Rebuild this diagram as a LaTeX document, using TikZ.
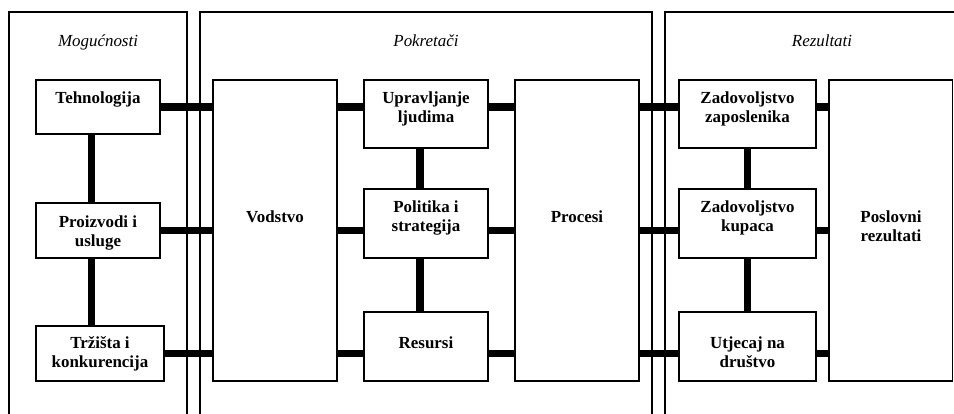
\documentclass[tikz,border=0pt]{standalone}
\usepackage{fontspec}
\setmainfont{Liberation Serif}
\usetikzlibrary{fit}
\newcommand\topst{\rule{0pt}{12pt}}
\tikzset{
  box/.style={draw, line width=1pt, fill=white, inner sep=0pt},
  conn/.style={line width=5.6pt},
  panel/.style={line width=0.8pt},
  lbl/.style={anchor=north, inner sep=0pt, align=center,
    font=\fontsize{12.7}{14.25}\selectfont\bfseries},
  ttl/.style={anchor=base, inner sep=0pt,
    font=\fontsize{12.7}{14.25}\selectfont\itshape}
}
\begin{document}
\begin{tikzpicture}[x=0.75pt,y=-0.75pt]
\useasboundingbox (0,0) rectangle (954,414);
% helper coordinates for connector rows and columns
\coordinate (r1) at (0,107);
\coordinate (r2) at (0,230.5);
\coordinate (r3) at (0,353.5);
\coordinate (c1) at (91.5,0);
\coordinate (c2) at (420,0);
\coordinate (c3) at (747.5,0);
% boxes
\node[box, fit={(36,80)(160,134)}] (teh) {};
\node[box, fit={(36,203)(160,258)}] (pro) {};
\node[box, fit={(36,326)(164,381)}] (trz) {};
\node[box, fit={(213,80)(337,381)}] (vod) {};
\node[box, fit={(364,80)(488,148)}] (upr) {};
\node[box, fit={(364,189)(488,258)}] (pol) {};
\node[box, fit={(364,312)(488,381)}] (res) {};
\node[box, fit={(515,80)(639,381)}] (proc) {};
\node[box, fit={(679,80)(816,148)}] (zap) {};
\node[box, fit={(679,189)(816,258)}] (kup) {};
\node[box, fit={(679,312)(816,381)}] (utj) {};
\node[box, fit={(829,80)(952.5,381)}] (pos) {};
% connectors
\draw[conn] (teh.east |- r1) -- (vod.west |- r1);
\draw[conn] (pro.east |- r2) -- (vod.west |- r2);
\draw[conn] (trz.east |- r3) -- (vod.west |- r3);
\draw[conn] (teh.south -| c1) -- (pro.north -| c1);
\draw[conn] (pro.south -| c1) -- (trz.north -| c1);
\draw[conn] (vod.east |- r1) -- (upr.west |- r1);
\draw[conn] (vod.east |- r2) -- (pol.west |- r2);
\draw[conn] (vod.east |- r3) -- (res.west |- r3);
\draw[conn] (upr.south -| c2) -- (pol.north -| c2);
\draw[conn] (pol.south -| c2) -- (res.north -| c2);
\draw[conn] (upr.east |- r1) -- (proc.west |- r1);
\draw[conn] (pol.east |- r2) -- (proc.west |- r2);
\draw[conn] (res.east |- r3) -- (proc.west |- r3);
\draw[conn] (proc.east |- r1) -- (zap.west |- r1);
\draw[conn] (proc.east |- r2) -- (kup.west |- r2);
\draw[conn] (proc.east |- r3) -- (utj.west |- r3);
\draw[conn] (zap.south -| c3) -- (kup.north -| c3);
\draw[conn] (kup.south -| c3) -- (utj.north -| c3);
\draw[conn] (zap.east |- r1) -- (pos.west |- r1);
\draw[conn] (kup.east |- r2) -- (pos.west |- r2);
\draw[conn] (utj.east |- r3) -- (pos.west |- r3);
% panels
\draw[panel] (9,414) |- (187,12) -- (187,414);
\draw[panel] (200,414) |- (652,12) -- (652,414);
\draw[panel] (665,414) |- (955,12);
% titles
\node[ttl] (t1) at (98,46.5) {Mogućnosti};
\node[ttl] (t2) at (426,46.5) {Pokretači};
\node[ttl] (t3) at (822,46.5) {Rezultati};
% labels (north = first baseline - 16px)
\node[lbl] (l1) at (98,87.5) {\topst Tehnologija};
\node[lbl] (l2) at (98,211) {\topst Proizvodi i\\usluge};
\node[lbl] (l3) at (100,332.5) {\topst Tržišta i\\konkurencija};
\node[lbl] (l4) at (275,206.5) {\topst Vodstvo};
\node[lbl] (l5) at (426,87.5) {\topst Upravljanje\\ljudima};
\node[lbl] (l6) at (426,196) {\topst Politika i\\strategija};
\node[lbl] (l7) at (426,332) {\topst Resursi};
\node[lbl] (l8) at (577,206.5) {\topst Procesi};
\node[lbl] (l9) at (747.5,87.5) {\topst Zadovoljstvo\\zaposlenika};
\node[lbl] (l10) at (747.5,196) {\topst Zadovoljstvo\\kupaca};
\node[lbl] (l11) at (747.5,332.5) {\topst Utjecaj na\\društvo};
\node[lbl] (l12) at (891,206) {\topst Poslovni\\rezultati};
\end{tikzpicture}
\end{document}
